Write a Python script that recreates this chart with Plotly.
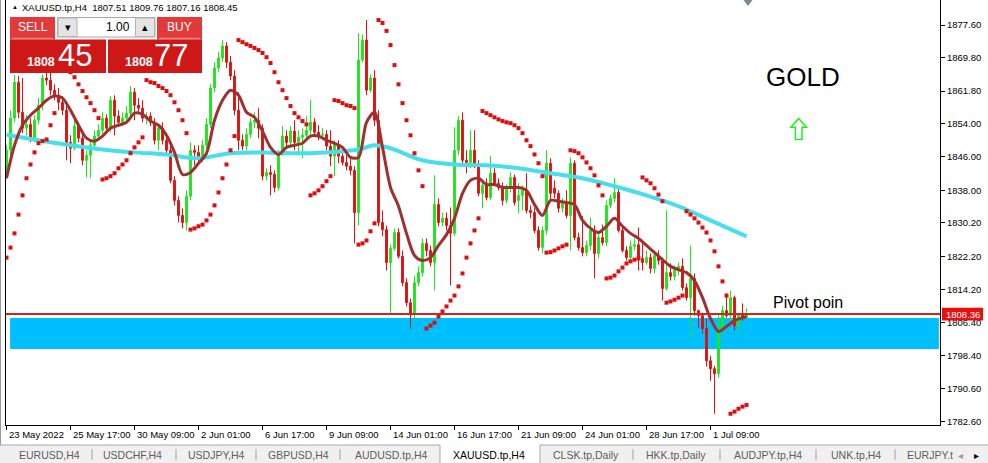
import plotly.graph_objects as go

# ------------------------------------------------------------------ data
bar_idx = list(range(186))

open_ = [
    1842.3, 1847.6, 1855.3, 1863.9, 1856.7, 1852.9, 1853.8, 1850.5, 1854.8, 1858.4,
    1864.9, 1864.4, 1862.0, 1860.6, 1859.1, 1857.2, 1849.5, 1848.1, 1853.4, 1850.5,
    1845.2, 1846.4, 1848.8, 1851.0, 1852.4, 1855.3, 1852.9, 1859.6, 1855.8, 1854.3,
    1855.3, 1856.5, 1861.5, 1858.4, 1857.7, 1855.3, 1855.8, 1854.3, 1850.0, 1852.9,
    1850.0, 1847.6, 1840.4, 1835.6, 1832.0, 1830.3, 1836.6, 1847.6, 1847.1, 1845.7,
    1848.8, 1853.8, 1862.5, 1867.3, 1869.7, 1872.6, 1868.7, 1865.4, 1857.2, 1850.0,
    1848.6, 1851.4, 1854.3, 1854.8, 1852.9, 1841.4, 1842.3, 1841.8, 1838.7, 1846.9,
    1851.0, 1849.5, 1852.2, 1849.5, 1850.7, 1851.2, 1852.4, 1854.3, 1851.9, 1851.2,
    1851.4, 1848.6, 1846.2, 1849.0, 1846.2, 1844.7, 1843.8, 1842.8, 1832.7, 1869.2,
    1874.0, 1862.0, 1864.9, 1854.8, 1830.3, 1828.6, 1820.7, 1824.1, 1827.9, 1822.2,
    1815.9, 1811.1, 1808.2, 1815.9, 1818.3, 1825.3, 1823.6, 1820.7, 1834.6, 1830.3,
    1831.3, 1829.6, 1827.7, 1847.6, 1854.8, 1845.2, 1844.7, 1847.6, 1844.0, 1837.3,
    1839.2, 1836.3, 1842.1, 1839.7, 1838.7, 1835.6, 1838.5, 1841.1, 1835.6, 1836.8,
    1838.0, 1833.2, 1832.7, 1828.4, 1824.3, 1828.4, 1844.5, 1838.5, 1837.3, 1833.7,
    1834.9, 1832.0, 1844.5, 1826.7, 1824.3, 1823.1, 1824.8, 1828.4, 1822.9, 1826.7,
    1825.5, 1834.4, 1836.1, 1837.5, 1828.4, 1823.6, 1821.9, 1824.6, 1825.0, 1821.7,
    1820.7, 1821.9, 1819.3, 1822.4, 1821.2, 1814.5, 1818.3, 1817.4, 1818.8, 1819.8,
    1814.7, 1812.3, 1816.9, 1809.2, 1808.0, 1804.9, 1797.2, 1795.3, 1794.1, 1804.9,
    1809.2, 1808.0, 1812.3, 1805.6, 1808.2, 1807.51,
]
high = [
    1848.8, 1857.2, 1865.6, 1865.4, 1864.9, 1856.0, 1855.3, 1856.0, 1860.1, 1865.8,
    1866.8, 1866.3, 1863.4, 1862.5, 1860.6, 1858.2, 1851.2, 1854.8, 1854.3, 1851.7,
    1847.6, 1850.0, 1852.4, 1853.8, 1856.7, 1856.2, 1860.6, 1860.8, 1857.2, 1856.7,
    1858.2, 1863.0, 1862.5, 1860.1, 1859.6, 1856.7, 1856.7, 1855.3, 1853.8, 1854.3,
    1851.4, 1848.8, 1841.4, 1836.6, 1833.7, 1838.0, 1849.5, 1848.8, 1848.8, 1850.0,
    1855.3, 1863.4, 1868.7, 1871.1, 1874.0, 1873.5, 1870.2, 1866.8, 1861.5, 1851.4,
    1852.9, 1855.3, 1856.7, 1857.7, 1853.8, 1843.3, 1844.0, 1842.8, 1847.6, 1853.4,
    1852.4, 1853.4, 1854.8, 1852.4, 1852.9, 1855.8, 1859.6, 1855.3, 1853.6, 1852.9,
    1852.4, 1852.4, 1850.0, 1850.0, 1847.6, 1846.4, 1845.7, 1843.8, 1875.7, 1875.4,
    1878.8, 1865.8, 1866.8, 1857.2, 1833.2, 1829.6, 1825.0, 1828.9, 1828.9, 1823.6,
    1816.9, 1812.1, 1817.6, 1819.8, 1826.5, 1826.5, 1824.8, 1841.6, 1836.1, 1832.7,
    1832.7, 1833.9, 1853.1, 1855.8, 1856.7, 1847.6, 1852.4, 1852.4, 1845.2, 1840.4,
    1840.9, 1846.2, 1843.3, 1840.9, 1839.9, 1839.4, 1842.3, 1841.8, 1839.7, 1839.2,
    1842.1, 1834.4, 1833.7, 1829.4, 1829.4, 1847.6, 1845.7, 1840.4, 1838.0, 1836.1,
    1838.0, 1845.9, 1845.2, 1827.9, 1831.8, 1826.0, 1831.5, 1829.6, 1827.9, 1829.8,
    1835.6, 1837.0, 1840.9, 1838.7, 1829.4, 1824.6, 1826.0, 1826.5, 1829.1, 1825.3,
    1823.6, 1822.9, 1823.6, 1823.6, 1821.9, 1833.2, 1820.5, 1820.0, 1820.7, 1821.7,
    1815.7, 1824.8, 1818.1, 1809.4, 1808.7, 1807.3, 1798.4, 1796.0, 1808.5, 1810.4,
    1813.3, 1814.0, 1812.8, 1808.7, 1810.9, 1809.76,
]
low = [
    1840.9, 1846.4, 1854.3, 1855.3, 1851.7, 1851.2, 1849.5, 1849.5, 1853.8, 1857.2,
    1863.2, 1860.8, 1859.6, 1857.2, 1856.0, 1845.2, 1844.5, 1847.6, 1849.5, 1844.0,
    1841.1, 1840.9, 1848.1, 1850.0, 1851.4, 1851.9, 1851.9, 1851.2, 1853.4, 1853.4,
    1854.3, 1855.8, 1854.8, 1856.7, 1854.3, 1853.8, 1853.4, 1849.0, 1847.6, 1849.0,
    1846.6, 1839.7, 1834.4, 1830.3, 1828.9, 1828.4, 1835.6, 1844.0, 1844.7, 1844.7,
    1848.1, 1852.9, 1861.5, 1866.3, 1868.7, 1867.3, 1864.4, 1856.0, 1847.6, 1847.6,
    1847.6, 1850.5, 1852.9, 1850.5, 1840.4, 1840.4, 1836.8, 1837.5, 1838.0, 1846.2,
    1848.6, 1848.8, 1847.6, 1846.4, 1845.7, 1850.0, 1851.2, 1851.0, 1850.0, 1850.0,
    1847.6, 1843.8, 1841.4, 1844.5, 1844.0, 1842.8, 1841.6, 1825.3, 1829.6, 1868.7,
    1860.8, 1861.5, 1853.4, 1829.4, 1827.0, 1818.8, 1808.5, 1823.6, 1821.7, 1815.0,
    1810.2, 1804.9, 1807.3, 1815.0, 1817.4, 1822.2, 1819.8, 1814.0, 1829.4, 1829.4,
    1828.4, 1815.2, 1827.0, 1846.4, 1844.2, 1842.1, 1843.3, 1843.3, 1836.6, 1833.7,
    1835.6, 1835.6, 1839.0, 1838.0, 1834.4, 1834.9, 1837.5, 1834.4, 1832.5, 1833.2,
    1832.5, 1831.3, 1827.7, 1823.6, 1822.9, 1827.4, 1835.6, 1836.1, 1832.7, 1832.7,
    1831.3, 1823.6, 1826.0, 1823.6, 1822.2, 1822.2, 1823.6, 1816.9, 1821.7, 1824.8,
    1824.6, 1833.7, 1835.1, 1827.9, 1823.1, 1821.2, 1821.2, 1823.6, 1818.8, 1818.8,
    1820.2, 1818.1, 1818.1, 1820.2, 1811.6, 1814.0, 1816.4, 1816.4, 1817.6, 1814.0,
    1811.6, 1802.5, 1808.0, 1805.1, 1803.7, 1795.8, 1792.4, 1784.5, 1793.1, 1803.7,
    1807.5, 1806.8, 1804.4, 1803.9, 1806.8, 1807.16,
]
close = [
    1847.6, 1855.3, 1863.9, 1856.7, 1852.9, 1853.8, 1850.5, 1854.8, 1858.4, 1864.9,
    1864.4, 1862.0, 1860.6, 1859.1, 1857.2, 1849.5, 1848.1, 1853.4, 1850.5, 1845.2,
    1846.4, 1848.8, 1851.0, 1852.4, 1855.3, 1852.9, 1859.6, 1855.8, 1854.3, 1855.3,
    1856.5, 1861.5, 1858.4, 1857.7, 1855.3, 1855.8, 1854.3, 1850.0, 1852.9, 1850.0,
    1847.6, 1840.4, 1835.6, 1832.0, 1830.3, 1836.6, 1847.6, 1847.1, 1845.7, 1848.8,
    1853.8, 1862.5, 1867.3, 1869.7, 1872.6, 1868.7, 1865.4, 1857.2, 1850.0, 1848.6,
    1851.4, 1854.3, 1854.8, 1852.9, 1841.4, 1842.3, 1841.8, 1838.7, 1846.9, 1851.0,
    1849.5, 1852.2, 1849.5, 1850.7, 1851.2, 1852.4, 1854.3, 1851.9, 1851.2, 1851.4,
    1848.6, 1846.2, 1849.0, 1846.2, 1844.7, 1843.8, 1842.8, 1832.7, 1869.2, 1874.0,
    1862.0, 1864.9, 1854.8, 1830.3, 1828.6, 1820.7, 1824.1, 1827.9, 1822.2, 1815.9,
    1811.1, 1808.2, 1815.9, 1818.3, 1825.3, 1823.6, 1820.7, 1834.6, 1830.3, 1831.3,
    1829.6, 1827.7, 1847.6, 1854.8, 1845.2, 1844.7, 1847.6, 1844.0, 1837.3, 1839.2,
    1836.3, 1842.1, 1839.7, 1838.7, 1835.6, 1838.5, 1841.1, 1835.1, 1836.8, 1838.0,
    1833.2, 1832.7, 1828.4, 1824.3, 1828.4, 1844.5, 1837.3, 1837.3, 1833.7, 1834.9,
    1832.0, 1844.5, 1826.7, 1824.3, 1823.1, 1824.8, 1828.4, 1822.9, 1826.7, 1825.5,
    1834.4, 1836.1, 1837.5, 1828.4, 1823.6, 1821.9, 1824.6, 1825.0, 1821.7, 1820.7,
    1821.9, 1819.3, 1822.4, 1821.2, 1814.5, 1818.3, 1817.4, 1818.8, 1819.8, 1814.7,
    1812.3, 1816.9, 1809.2, 1808.0, 1804.9, 1797.2, 1795.3, 1794.1, 1804.9, 1809.2,
    1808.0, 1812.3, 1805.6, 1808.2, 1807.5, 1808.45,
]
sar = [
    1821.9, 1824.3, 1827.7, 1832.2, 1836.8, 1840.9, 1844.2, 1847.1, 1849.3, 1849.8,
    1850.2, 1853.6, 1856.5, 1869.2, 1868.5, 1867.5, 1866.3, 1865.1, 1863.4, 1861.8,
    1860.3, 1858.9, 1857.2, 1855.3, 1840.6, 1840.9, 1841.4, 1842.1, 1843.3, 1844.2,
    1845.2, 1846.9, 1848.3, 1849.5, 1850.7, 1864.4, 1863.9, 1863.7, 1863.0, 1862.5,
    1861.8, 1860.8, 1859.1, 1857.2, 1854.8, 1851.7, 1828.6, 1828.9, 1829.4, 1829.8,
    1830.8, 1832.2, 1834.4, 1837.5, 1840.9, 1844.2, 1847.6, 1851.0, 1874.0, 1873.5,
    1873.0, 1872.6, 1872.1, 1871.6, 1870.9, 1869.9, 1868.5, 1866.3, 1863.9, 1862.0,
    1860.1, 1858.2, 1856.5, 1855.5, 1854.6, 1853.8, 1836.8, 1837.3, 1838.0, 1839.0,
    1840.2, 1841.4, 1859.6, 1859.4, 1858.9, 1858.4, 1858.2, 1857.7, 1825.0, 1825.3,
    1826.0, 1828.2, 1830.1, 1878.8, 1878.1, 1876.2, 1872.8, 1868.0, 1863.4, 1858.9,
    1854.8, 1851.2, 1846.9, 1842.8, 1839.0, 1804.9, 1805.6, 1806.3, 1807.8, 1809.0,
    1810.2, 1811.6, 1812.8, 1815.0, 1818.1, 1821.9, 1825.3, 1828.4, 1831.3, 1857.0,
    1856.5, 1856.0, 1855.5, 1855.0, 1854.6, 1854.3, 1854.1, 1853.6, 1852.9, 1851.7,
    1850.0, 1848.6, 1846.6, 1844.5, 1841.4, 1823.1, 1823.2, 1823.6, 1824.1, 1824.6,
    1825.0, 1847.6, 1847.4, 1846.9, 1845.9, 1844.7, 1843.3, 1841.6, 1839.2, 1836.8,
    1816.9, 1817.1, 1817.6, 1818.6, 1819.5, 1820.5, 1821.0, 1821.4, 1821.7, 1841.1,
    1840.4, 1839.7, 1838.5, 1837.0, 1835.4, 1811.1, 1811.4, 1811.8, 1812.3, 1812.8,
    1833.0, 1832.2, 1831.3, 1830.3, 1829.1, 1827.9, 1826.0, 1823.4, 1819.8, 1816.2,
    1812.8, 1784.5, 1785.0, 1785.7, 1786.2, 1786.6,
]
ma_fast_idx = list(range(0, 185, 2)) + [185]
ma_fast = [
    1840.9, 1848.8, 1853.6, 1856.0, 1857.7, 1859.6, 1860.6, 1860.1, 1857.2, 1853.6,
    1850.5, 1849.8, 1851.0, 1852.9, 1853.6, 1854.3, 1856.5, 1856.2, 1854.6, 1853.6,
    1851.2, 1847.1, 1841.8, 1842.3, 1844.5, 1846.9, 1854.8, 1859.6, 1862.0, 1860.8,
    1856.7, 1855.5, 1852.2, 1848.3, 1846.6, 1848.3, 1848.8, 1849.3, 1851.0, 1851.0,
    1850.0, 1849.3, 1848.3, 1845.9, 1845.9, 1854.3, 1856.7, 1848.3, 1838.7, 1834.2,
    1827.7, 1822.4, 1821.2, 1821.9, 1824.8, 1827.4, 1831.3, 1837.3, 1840.4, 1840.9,
    1839.4, 1839.4, 1838.7, 1838.7, 1838.7, 1838.0, 1834.6, 1832.0, 1835.6, 1835.4,
    1835.1, 1834.6, 1830.8, 1828.9, 1827.9, 1829.4, 1831.3, 1829.4, 1827.7, 1826.5,
    1824.8, 1823.1, 1821.4, 1819.8, 1819.0, 1818.3, 1816.4, 1812.3, 1807.3, 1804.2,
    1805.4, 1806.8, 1807.5, 1807.8,
]
ma_slow_idx = [0, 8, 16, 24, 32, 40, 48, 56, 64, 72, 80, 88, 92, 96, 104, 112,
               120, 128, 136, 144, 152, 160, 168, 176, 185]
ma_slow = [1851.4, 1850.0, 1848.8, 1847.8, 1847.1, 1846.6, 1845.7, 1846.9, 1847.1,
           1846.9, 1847.1, 1847.8, 1848.8, 1848.1, 1845.2, 1844.2, 1844.0, 1843.3,
           1842.1, 1840.9, 1839.0, 1836.8, 1834.2, 1830.8, 1827.0]

time_tick_idx = [0, 16, 32, 48, 64, 80, 96, 112, 128, 144, 160, 176]
time_tick_labels = ["23 May 2022", "25 May 17:00", "30 May 09:00", "2 Jun 01:00",
                    "6 Jun 17:00", "9 Jun 09:00", "14 Jun 01:00", "16 Jun 17:00",
                    "21 Jun 09:00", "24 Jun 01:00", "28 Jun 17:00", "1 Jul 09:00"]
price_ticks = [1877.6, 1869.8, 1861.8, 1854.0, 1846.0, 1838.0, 1830.2, 1822.2,
               1814.2, 1806.4, 1798.4, 1790.6, 1782.6]

pivot_price = 1808.36
zone_low, zone_high = 1800.0, 1807.4
zone_start_idx = 0.9
header_text = "XAUUSD.tp,H4  1807.51 1809.76 1807.16 1808.45"
bid_big, bid_small = "45", "1808"
ask_big, ask_small = "77", "1808"
lot_text = "1.00"
tab_labels = ["EURUSD,H4", "USDCHF,H4", "USDJPY,H4", "GBPUSD,H4", "AUDUSD.tp,H4",
              "XAUUSD.tp,H4", "CLSK.tp,Daily", "HKK.tp,Daily", "AUDJPY.tp,H4",
              "UNK.tp,H4", "EURJPY.t"]
active_tab = "XAUUSD.tp,H4"

# ------------------------------------------------------------------ layout helpers
W, H = 988, 463
ML, MR, MT, MB = 6, 48, 0, 38
PW = W - ML - MR
PH = H - MT - MB
FONT = "Liberation Sans, Arial, sans-serif"


def fx(x):
    return (x - ML) / PW


def fy(y):
    return (H - MB - y) / PH


GREEN = "#1FE51F"
RED = "#DF1111"

fig = go.Figure()
fig.add_trace(go.Candlestick(
    x=bar_idx, open=open_, high=high, low=low, close=close,
    increasing=dict(line=dict(color=GREEN, width=1), fillcolor=GREEN),
    decreasing=dict(line=dict(color=RED, width=1), fillcolor=RED),
    whiskerwidth=0, hoverinfo="skip", showlegend=False))
fig.add_trace(go.Scatter(
    x=ma_slow_idx, y=ma_slow, mode="lines",
    line=dict(color="#46DFEB", width=4, shape="spline", smoothing=1.0),
    hoverinfo="skip", showlegend=False))
fig.add_trace(go.Scatter(
    x=ma_fast_idx, y=ma_fast, mode="lines",
    line=dict(color="#9E3030", width=3, shape="spline", smoothing=0.8),
    hoverinfo="skip", showlegend=False))
fig.add_trace(go.Scatter(
    x=bar_idx, y=sar, mode="markers",
    marker=dict(symbol="square", size=4, color="#D81010", line=dict(width=0)),
    hoverinfo="skip", showlegend=False))

shapes = []
annotations = []

# cyan zone and pivot line
shapes.append(dict(type="rect", xref="x", yref="y", x0=zone_start_idx, x1=233.1,
                   y0=zone_low, y1=zone_high, fillcolor="#00BFFF",
                   line=dict(width=0), layer="below"))
shapes.append(dict(type="line", xref="paper", yref="y", x0=0, x1=1,
                   y0=pivot_price, y1=pivot_price,
                   line=dict(color="#D02323", width=2)))
# price label on the axis
shapes.append(dict(type="rect", xref="paper", yref="y", x0=fx(942), x1=fx(983),
                   y0=pivot_price - 1.55, y1=pivot_price + 1.55,
                   fillcolor="#E80F0F", line=dict(width=0)))
annotations.append(dict(xref="paper", yref="y", x=fx(962.5), y=pivot_price,
                        text=f"{pivot_price:.2f}", showarrow=False,
                        font=dict(size=9.5, color="white", family=FONT),
                        xanchor="center", yanchor="middle"))

# time labels
for idx, lab in zip(time_tick_idx, time_tick_labels):
    annotations.append(dict(xref="x", yref="paper", x=idx, y=fy(434.5), text=lab,
                            showarrow=False, xanchor="left", yanchor="middle",
                            font=dict(size=9.5, color="black", family=FONT)))

# text objects
annotations.append(dict(xref="paper", yref="paper", x=fx(803), y=fy(77), text="GOLD",
                        showarrow=False, xanchor="center", yanchor="middle",
                        font=dict(size=26, color="black", family=FONT)))
annotations.append(dict(xref="paper", yref="paper", x=fx(771), y=fy(302),
                        text="Pivot poin", showarrow=False, xanchor="left",
                        yanchor="middle", font=dict(size=16, color="black", family=FONT)))

# green outline arrow
pts = [(798.7, 118.5), (806.5, 127.3), (802.0, 127.3), (802.0, 139.5),
       (795.4, 139.5), (795.4, 127.3), (790.9, 127.3)]
path = "M " + " L ".join(f"{fx(a):.5f},{fy(b):.5f}" for a, b in pts) + " Z"
shapes.append(dict(type="path", xref="paper", yref="paper", path=path,
                   line=dict(color="#22EE22", width=1.5),
                   fillcolor="rgba(0,0,0,0)"))

# top chart-shift marker
pts = [(743.5, 0), (752.5, 0), (748, 6)]
path = "M " + " L ".join(f"{fx(a):.5f},{fy(b):.5f}" for a, b in pts) + " Z"
shapes.append(dict(type="path", xref="paper", yref="paper", path=path,
                   line=dict(width=0), fillcolor="#7D8894"))

# header line
annotations.append(dict(xref="paper", yref="paper", x=fx(14.5), y=fy(7), text="▲",
                        showarrow=False, xanchor="center", yanchor="middle",
                        font=dict(size=6, color="black", family=FONT)))
annotations.append(dict(xref="paper", yref="paper", x=fx(20), y=fy(7.5),
                        text=header_text, showarrow=False, xanchor="left",
                        yanchor="middle", font=dict(size=9.5, color="black", family=FONT)))


# one-click trading panel
def prect(x0, y0, x1, y1, fill, line_color=None, lw=0):
    shapes.append(dict(type="rect", xref="paper", yref="paper",
                       x0=fx(x0), x1=fx(x1), y0=fy(y1), y1=fy(y0),
                       fillcolor=fill, layer="above",
                       line=dict(color=line_color or fill, width=lw)))


def ptext(x, y, txt, size, color="white", anchor="center", bold=False):
    annotations.append(dict(xref="paper", yref="paper", x=fx(x), y=fy(y),
                            text=f"<b>{txt}</b>" if bold else txt,
                            showarrow=False, xanchor=anchor, yanchor="middle",
                            font=dict(size=size, color=color, family=FONT)))


prect(10, 17, 55, 39.5, "#E23A3A")
prect(157, 17, 202, 39.5, "#E23A3A")
prect(10, 39.5, 106, 73, "#CE1717")
prect(108, 39.5, 202, 73, "#CE1717")
shapes.append(dict(type="line", xref="paper", yref="paper", x0=fx(12), x1=fx(53),
                   y0=fy(38.3), y1=fy(38.3), line=dict(color="#F29A9A", width=1)))
shapes.append(dict(type="line", xref="paper", yref="paper", x0=fx(159), x1=fx(200),
                   y0=fy(38.3), y1=fy(38.3), line=dict(color="#F29A9A", width=1)))
prect(57.5, 17.5, 155, 37, "white", "#A8A8A8", 1)
prect(58, 18, 77, 36.5, "#E4E4E4", "#B4B4B4", 1)
prect(135.5, 18, 154.5, 36.5, "#E4E4E4", "#B4B4B4", 1)
ptext(67.5, 27, "▾", 11, "black")
ptext(145, 26.5, "▴", 11, "black")
ptext(131.5, 27, lot_text, 12, "black", anchor="right")
ptext(32.5, 27.5, "SELL", 12)
ptext(179.5, 27.5, "BUY", 12)
ptext(40.5, 62, bid_small, 12.5, bold=True)
ptext(74.5, 56, bid_big, 31)
ptext(138.5, 62, ask_small, 12.5, bold=True)
ptext(171, 56, ask_big, 31)

# window left border
shapes.append(dict(type="line", xref="paper", yref="paper", x0=fx(0.5), x1=fx(0.5),
                   y0=fy(463), y1=fy(0), line=dict(color="#9A9A9A", width=1)))

# tab bar
prect(0, 445, 988, 463, "#F0F0F0")
shapes.append(dict(type="line", xref="paper", yref="paper", x0=fx(0), x1=fx(988),
                   y0=fy(445), y1=fy(445), line=dict(color="#A9A9A9", width=1)))
prect(440, 444, 540, 463, "white")
for xv in (440, 540):
    shapes.append(dict(type="line", xref="paper", yref="paper", x0=fx(xv), x1=fx(xv),
                       y0=fy(445), y1=fy(463), line=dict(color="#A9A9A9", width=1)))
for xv in (92, 176, 256, 340, 633, 720, 816, 895):
    shapes.append(dict(type="line", xref="paper", yref="paper", x0=fx(xv), x1=fx(xv),
                       y0=fy(449), y1=fy(460), line=dict(color="#A0A0A0", width=1)))
tab_centers = [49, 132, 216, 298, 391, 489, 586, 676, 768, 856, 905]
for lab, cx in zip(tab_labels, tab_centers):
    col = "#000000" if lab == active_tab else "#5E5E5E"
    anchor = "left" if lab == tab_labels[-1] else "center"
    ptext(cx, 455, lab, 10.5, col, anchor=anchor)
prect(952, 446, 988, 463, "#F0F0F0")
ptext(960, 455, "◂", 10, "#9A9A9A")
ptext(976, 455, "▸", 10, "black")

fig.update_layout(
    width=W, height=H, autosize=False,
    margin=dict(l=ML, r=MR, t=MT, b=MB, pad=0),
    paper_bgcolor="white", plot_bgcolor="white",
    font=dict(family=FONT, size=10, color="black"),
    showlegend=False, hovermode=False, boxgap=0.35,
    shapes=shapes, annotations=annotations,
)
fig.update_xaxes(range=[-0.125, 233.375], rangeslider=dict(visible=False),
                 showgrid=False, zeroline=False, showline=True, linecolor="black",
                 linewidth=1, ticks="outside", ticklen=4, tickcolor="black",
                 tickvals=time_tick_idx, showticklabels=False, fixedrange=True)
fig.update_yaxes(range=[1781.8, 1883.6], side="right", showgrid=False,
                 zeroline=False, showline=True, mirror=True, linecolor="black",
                 linewidth=1, ticks="outside", ticklen=4, tickcolor="black",
                 tickvals=price_ticks, tickformat=".2f",
                 tickfont=dict(size=9.5, color="black", family=FONT),
                 fixedrange=True)

fig.write_html("out.html", include_plotlyjs=True,
               config={"displayModeBar": False, "staticPlot": True},
               post_script="document.body.style.margin='0px';document.body.style.overflow='hidden';")
